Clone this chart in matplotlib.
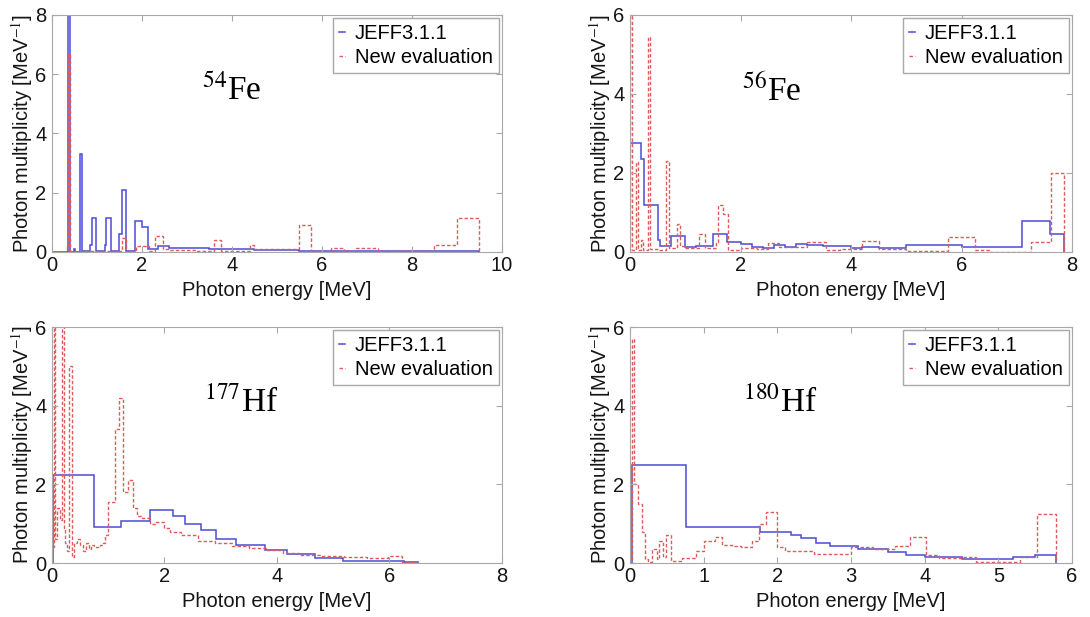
import matplotlib
matplotlib.use("Agg")
import matplotlib.pyplot as plt

plt.rcParams["font.family"] = ["Liberation Sans", "DejaVu Sans"]
plt.rcParams["mathtext.fontset"] = "stix"

# 54Fe
fe54_jeff_edges = [0, 0.36, 0.41, 0.48, 0.52, 0.62, 0.67, 0.84, 0.88, 0.97, 1.17, 1.2, 1.31,
                   1.48, 1.55, 1.65, 1.85, 1.99, 2.14, 2.35, 2.6, 3.5, 4.5, 5.5, 6.0, 7.0, 9.5]
fe54_jeff_vals = [0, 8.5, 0, 0.1, 0, 3.3, 0.02, 0.25, 1.15, 0.02, 0.25, 1.15, 0.05,
                  0.6, 2.1, 0.05, 1.05, 0.85, 0.1, 0.2, 0.15, 0.1, 0.07, 0.05, 0.03, 0.02]
fe54_new_edges = [0, 0.33, 0.36, 0.41, 1.55, 1.65, 1.87, 2.15, 2.3, 2.47, 2.6, 3.2, 3.6, 3.76,
                  4.39, 4.5, 5.5, 5.75, 6.2, 6.5, 6.75, 7.25, 8.5, 9.0, 9.5]
fe54_new_vals = [0, 0.25, 6.7, 0.03, 0.47, 0.05, 0.2, 0.05, 0.54, 0.1, 0.08, 0.05, 0.4, 0.05,
                 0.25, 0.1, 0.9, 0.05, 0.12, 0.05, 0.15, 0.02, 0.25, 1.15]

# 56Fe
fe56_jeff_edges = [0, 0.2, 0.26, 0.5, 0.55, 0.75, 1.0, 1.2, 1.5, 1.75, 2.0, 2.2, 2.4, 2.6, 2.8,
                   3.0, 3.2, 3.5, 4.0, 4.2, 4.5, 5.0, 6.0, 7.1, 7.6, 7.85]
fe56_jeff_vals = [2.75, 2.35, 1.2, 0.3, 0.15, 0.4, 0.12, 0.15, 0.45, 0.25, 0.2, 0.12, 0.1, 0.18,
                  0.12, 0.2, 0.18, 0.15, 0.1, 0.12, 0.1, 0.18, 0.12, 0.78, 0.45]
fe56_new_edges = [0, 0.04, 0.1, 0.14, 0.2, 0.24, 0.32, 0.37, 0.5, 0.66, 0.71, 0.85, 0.9, 1.0,
                  1.25, 1.35, 1.55, 1.6, 1.68, 1.78, 2.0, 2.3, 2.5, 2.7, 3.2, 3.55, 3.8, 4.2,
                  4.5, 5.0, 5.75, 6.25, 6.5, 7.25, 7.62, 7.85]
fe56_new_vals = [6.5, 0.05, 2.28, 0.05, 0.3, 0.05, 5.45, 0.08, 0.05, 2.3, 0.1, 0.7, 0.15, 0.1,
                 0.45, 0.1, 0.25, 1.2, 0.95, 0.05, 0.1, 0.08, 0.23, 0.12, 0.25, 0.05, 0.08, 0.28,
                 0.08, 0.02, 0.38, 0.05, 0.01, 0.25, 2.0]

# 177Hf
hf177_jeff_edges = [0.01, 0.75, 1.22, 1.75, 2.15, 2.37, 2.65, 2.92, 3.27, 3.78, 4.17, 4.68,
                    5.17, 5.5, 6.25, 6.5]
hf177_jeff_vals = [2.25, 0.91, 1.07, 1.34, 1.2, 1.0, 0.83, 0.6, 0.45, 0.32, 0.22, 0.12,
                   0.06, 0.05, 0.03]
hf177_new_edges = [0, 0.03, 0.06, 0.09, 0.12, 0.15, 0.18, 0.21, 0.24, 0.27, 0.31, 0.35, 0.4,
                   0.45, 0.5, 0.55, 0.6, 0.65, 0.7, 0.75, 0.8, 0.85, 0.9, 0.95, 1.0, 1.12, 1.2,
                   1.26, 1.35, 1.44, 1.52, 1.6, 1.75, 1.85, 2.0, 2.1, 2.3, 2.6, 2.9, 3.2, 3.5,
                   3.8, 4.1, 4.4, 4.8, 5.2, 5.6, 5.97, 6.22, 6.5]
hf177_new_vals = [0.4, 7.0, 0.6, 1.4, 1.4, 1.1, 7.0, 0.9, 0.5, 0.3, 5.0, 0.15, 0.5, 0.6, 0.45,
                  0.3, 0.5, 0.35, 0.45, 0.4, 0.4, 0.45, 0.5, 0.7, 1.55, 3.4, 4.2, 1.8, 2.1,
                  1.4, 1.2, 1.15, 1.0, 1.05, 0.9, 0.8, 0.7, 0.55, 0.5, 0.42, 0.38, 0.32, 0.25,
                  0.2, 0.17, 0.15, 0.12, 0.17, 0.03]

# 180Hf
hf180_jeff_edges = [0.03, 0.76, 1.77, 2.18, 2.32, 2.53, 2.72, 3.1, 3.5, 3.75, 4.0, 4.5, 5.2,
                    5.5, 5.78]
hf180_jeff_vals = [2.5, 0.91, 0.8, 0.71, 0.63, 0.52, 0.42, 0.35, 0.28, 0.2, 0.15, 0.1, 0.15, 0.2]
hf180_new_edges = [0, 0.03, 0.06, 0.11, 0.16, 0.2, 0.24, 0.3, 0.36, 0.4, 0.45, 0.49, 0.55,
                   0.7, 0.9, 1.0, 1.15, 1.25, 1.4, 1.5, 1.65, 1.75, 1.85, 2.0, 2.1, 2.5, 3.0,
                   3.3, 3.6, 3.8, 4.02, 4.2, 4.5, 4.7, 5.3, 5.52, 5.78]
hf180_new_vals = [0, 5.7, 2.0, 1.5, 0.8, 0.1, 0.02, 0.35, 0.1, 0.57, 0.15, 0.71, 0.05, 0.12,
                  0.3, 0.55, 0.65, 0.45, 0.42, 0.4, 0.55, 1.0, 1.3, 0.4, 0.3, 0.22, 0.4, 0.35,
                  0.43, 0.67, 0.2, 0.12, 0.15, 0.03, 0.15, 1.25]

panels = [
    ("54", "Fe", fe54_jeff_edges, fe54_jeff_vals, fe54_new_edges, fe54_new_vals, 10, 2, 8),
    ("56", "Fe", fe56_jeff_edges, fe56_jeff_vals, fe56_new_edges, fe56_new_vals, 8, 2, 6),
    ("177", "Hf", hf177_jeff_edges, hf177_jeff_vals, hf177_new_edges, hf177_new_vals, 8, 2, 6),
    ("180", "Hf", hf180_jeff_edges, hf180_jeff_vals, hf180_new_edges, hf180_new_vals, 6, 1, 6),
]

# axes boxes in figure fractions
rects = [
    [0.0477, 0.5916, 0.4128, 0.3841],
    [0.578, 0.5916, 0.4055, 0.3841],
    [0.0477, 0.0875, 0.4128, 0.3825],
    [0.578, 0.0875, 0.4055, 0.3825],
]
label_x = [0.333, 0.253, 0.338, 0.255]

BLUE = "#4b4bd6"
RED = "#e05a5a"
GREY = "#a8a8a8"
FS = 14.5

fig = plt.figure(figsize=(10.9, 6.17), dpi=100)

for (mass, elem, je, jv, ne, nv, xmax, xstep, ymax), rect, lx in zip(panels, rects, label_x):
    ax = fig.add_axes(rect)
    ax.stairs(jv, je, baseline=0, color=BLUE, lw=1.1, label="JEFF3.1.1")
    ax.stairs(nv, ne, baseline=0, color=RED, lw=1.0, ls=(0, (2.5, 1.5)), label="New evaluation")
    ax.set_xlim(0, xmax)
    ax.set_ylim(0, ymax)
    ax.set_xticks(range(0, xmax + 1, xstep))
    ax.set_yticks(range(0, ymax + 1, 2))
    ax.tick_params(direction="in", top=True, right=True, length=4, color=GREY,
                   labelsize=FS, labelcolor="#151515")
    ax.tick_params(axis="x", pad=3)
    ax.tick_params(axis="y", pad=4)
    for s in ax.spines.values():
        s.set_color(GREY)
    ax.set_xlabel("Photon energy [MeV]", fontsize=FS, labelpad=4, color="#151515")
    ax.set_ylabel("Photon multiplicity [MeV$^{-1}$]", fontsize=FS, labelpad=0, color="#151515")
    leg = ax.legend(loc="upper right", bbox_to_anchor=(1.0, 1.0), borderaxespad=0.15,
                    fontsize=FS, handlelength=0.3, handletextpad=0.5, borderpad=0.3,
                    labelspacing=0.25, fancybox=False, framealpha=1)
    leg.get_frame().set_edgecolor(GREY)
    leg.get_frame().set_linewidth(1.0)
    ax.text(lx, 0.64, r"$^{%s}$%s" % (mass, elem), transform=ax.transAxes,
            family="Liberation Serif", fontsize=24, va="baseline", ha="left")

fig.savefig("out.png", dpi=100)
